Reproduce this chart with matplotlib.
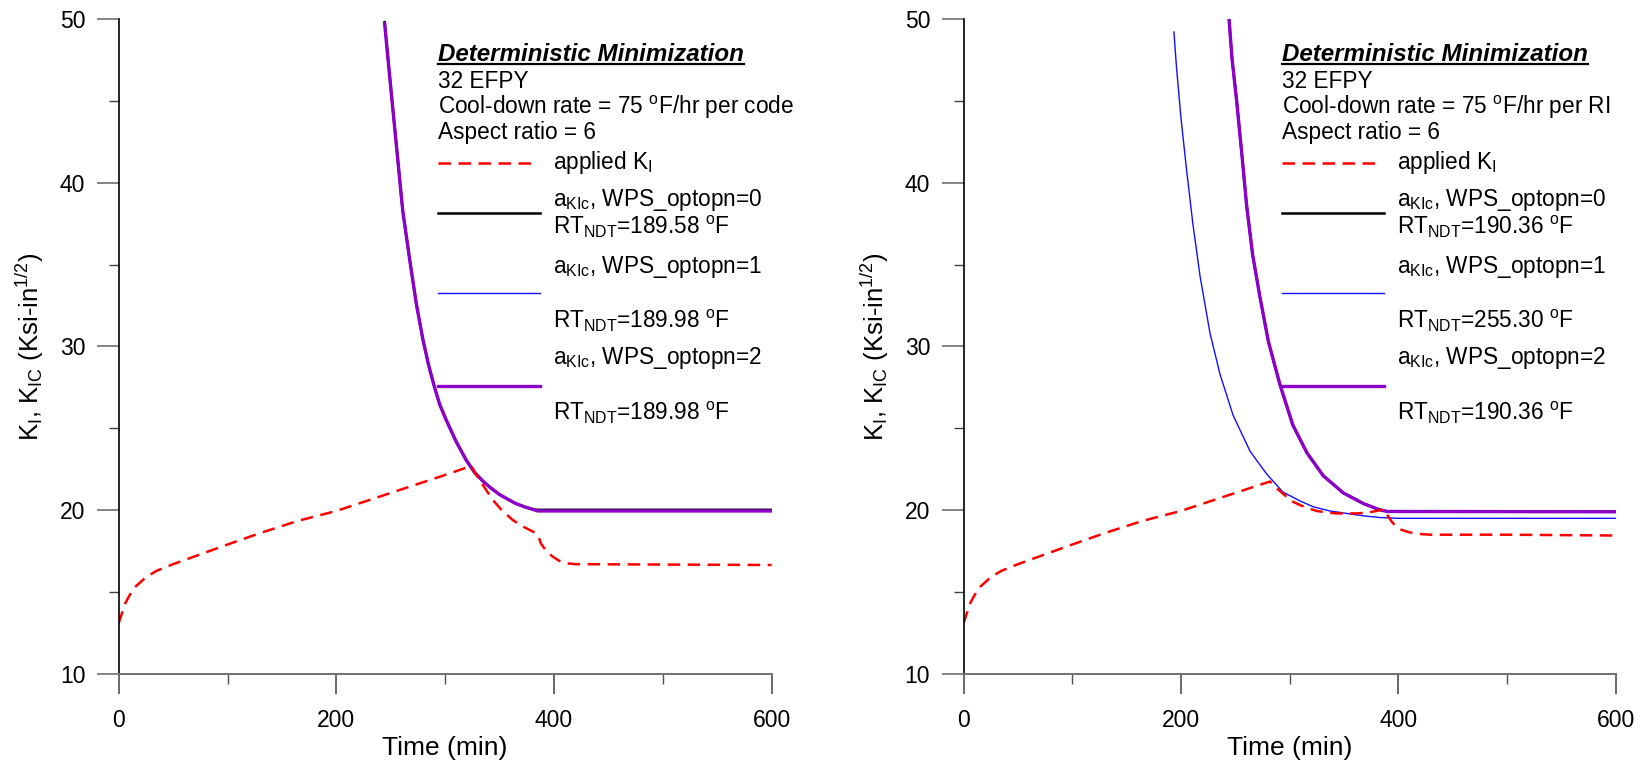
import matplotlib
matplotlib.use('Agg')
import matplotlib.pyplot as plt
from matplotlib.ticker import MultipleLocator

plt.rcParams['font.family'] = ['Liberation Sans', 'DejaVu Sans']
plt.rcParams['mathtext.fontset'] = 'custom'
plt.rcParams['mathtext.rm'] = 'Liberation Sans'
plt.rcParams['mathtext.it'] = 'Liberation Sans:italic'

# applied K_I, common early part (both cases)
t_red_common = [0, 3, 6, 10, 15, 20, 25, 35, 50, 75, 100, 130, 165, 200, 250]
k_red_common = [13.1, 13.7, 14.3, 14.8, 15.3, 15.6, 15.9, 16.3, 16.7, 17.3, 17.9, 18.6, 19.35, 19.95, 21.05]

# left panel (per code)
t_red_left = t_red_common + [300, 324, 327, 331, 337, 344, 352, 362, 370, 378, 383, 386, 388, 393, 399,
                             405, 412, 420, 600]
k_red_left = k_red_common + [22.15, 22.7, 22.35, 21.9, 21.3, 20.6, 20.0, 19.4, 19.05, 18.78, 18.6, 18.35,
                             17.96, 17.5, 17.15, 16.9, 16.75, 16.7, 16.65]

t_kic_left = [244.4, 249, 255, 261, 267.4, 273.5, 279.6, 285, 290, 295, 301, 310, 319.4, 327, 335, 342,
              350, 358, 365, 373, 380.7, 385, 600]
k_kic_left = [49.7, 46.5, 42.4, 38.3, 35.3, 32.6, 30.4, 28.8, 27.55, 26.45, 25.5, 24.2, 23.05, 22.3, 21.75,
              21.35, 20.95, 20.65, 20.4, 20.2, 20.04, 19.95, 19.95]
k_kic0_left = [49.8, 46.5, 42.4, 38.3, 35.3, 32.6, 30.4, 28.8, 27.55, 26.45, 25.5, 24.2, 23.05, 22.3, 21.75,
               21.35, 20.95, 20.65, 20.4, 20.2, 20.06, 20.02, 20.02]

# right panel (per RI)
t_red_right = t_red_common + [282, 288, 294, 302, 310, 318, 325, 335, 343, 352, 362, 372, 380, 386, 390,
                              394, 398, 403, 410, 418, 430, 500, 600]
k_red_right = k_red_common + [21.75, 21.35, 21.0, 20.55, 20.3, 20.1, 19.95, 19.85, 19.8, 19.8, 19.8, 19.85,
                              19.95, 20.05, 19.7, 19.3, 19.0, 18.8, 18.65, 18.55, 18.5, 18.5, 18.45]

t_kic0_right = [244.3, 247, 251.3, 256, 260.5, 266, 272.8, 280.5, 291, 303, 316, 331, 349.5, 368, 383, 390, 600]
k_kic0_right = [50.0, 47.6, 45.0, 41.8, 38.6, 35.6, 33.0, 30.3, 27.7, 25.2, 23.5, 22.1, 21.05, 20.4, 20.02,
                19.92, 19.9]

t_kic1_right = [193.6, 196, 200, 205, 211, 217.6, 226.8, 236, 248, 263.6, 279, 294, 310, 322, 337, 352.6,
                368, 383, 400, 600]
k_kic1_right = [49.2, 47.0, 44.0, 40.9, 37.5, 34.3, 30.8, 28.3, 25.8, 23.6, 22.2, 21.1, 20.55, 20.2, 19.95,
                19.8, 19.65, 19.55, 19.5, 19.5]

header_left = ['32 EFPY', 'Cool-down rate = 75 $^\\mathregular{o}$F/hr per code', 'Aspect ratio = 6']
header_right = ['32 EFPY', 'Cool-down rate = 75 $^\\mathregular{o}$F/hr per RI', 'Aspect ratio = 6']
rt_left = ['189.58', '189.98', '189.98']
rt_right = ['190.36', '255.30', '190.36']

RED = '#ff0000'
BLACK = '#000000'
BLUE = '#1010ff'
PURPLE = '#8c00c8'
FS = 16.3


def setup_axes(ax):
    ax.set_xlim(0, 600)
    ax.set_ylim(10, 50)
    ax.xaxis.set_major_locator(MultipleLocator(200))
    ax.xaxis.set_minor_locator(MultipleLocator(100))
    ax.yaxis.set_major_locator(MultipleLocator(10))
    ax.yaxis.set_minor_locator(MultipleLocator(5))
    for s in ['top', 'right']:
        ax.spines[s].set_visible(False)
    ax.spines['left'].set_color('black')
    ax.spines['left'].set_linewidth(1.2)
    ax.spines['bottom'].set_color('#707070')
    ax.spines['bottom'].set_linewidth(1.4)
    ax.tick_params(axis='y', which='major', length=16, width=1.2, color='#707070', pad=8, labelsize=16.5)
    ax.tick_params(axis='y', which='minor', length=7.2, width=1.0, color='#404040')
    ax.tick_params(axis='x', which='major', length=14.4, width=1.2, color='#505050', pad=11, labelsize=16.5)
    ax.tick_params(axis='x', which='minor', length=7.2, width=1.0, color='#505050')
    ax.set_xlabel('Time (min)', fontsize=19, labelpad=3)
    ax.set_ylabel('K$_\\mathregular{I}$, K$_\\mathregular{IC}$ (Ksi-in$^\\mathregular{1/2}$)', fontsize=18.5,
                  labelpad=10)


def add_legend(ax, header, rts):
    x0, x1, xt = 0.489, 0.645, 0.665
    title = ax.text(x0, 0.9357, 'Deterministic Minimization', transform=ax.transAxes, fontsize=17.4,
                    fontweight='bold', fontstyle='italic', va='baseline')
    ax.figure.canvas.draw()
    bb = title.get_window_extent().transformed(ax.transAxes.inverted())
    ax.plot([bb.x0, bb.x1], [0.9357 - 0.004, 0.9357 - 0.004], color='black', lw=1.6,
            transform=ax.transAxes, clip_on=False)
    for txt, y in zip(header, [0.8945, 0.8548, 0.8162]):
        ax.text(x0, y, txt, transform=ax.transAxes, fontsize=FS, va='baseline')

    ax.plot([x0, x0 + 0.153], [0.780, 0.780], color=RED, lw=1.8, dashes=(5, 3), transform=ax.transAxes)
    ax.text(xt, 0.7704, 'applied K$_\\mathregular{I}$', transform=ax.transAxes, fontsize=FS, va='baseline')

    line_ys = [0.7037, 0.5815, 0.4396]
    label_ys = [(0.7144, 0.6716), (0.6125, 0.5281), (0.4727, 0.3876)]
    styles = [(BLACK, 1.8), (BLUE, 1.0), (PURPLE, 2.4)]
    for i, (ly, (ya, yb), (c, lw), rt) in enumerate(zip(line_ys, label_ys, styles, rts)):
        ax.plot([x0, x1], [ly, ly], color=c, lw=lw, transform=ax.transAxes)
        ax.text(xt, ya, 'a$_\\mathregular{KIc}$, WPS_optopn=%d' % i, transform=ax.transAxes,
                fontsize=FS, va='baseline')
        ax.text(xt, yb, 'RT$_\\mathregular{NDT}$=%s $^\\mathregular{o}$F' % rt, transform=ax.transAxes,
                fontsize=FS, va='baseline')


fig = plt.figure(figsize=(16.46, 7.65), dpi=100)
ax1 = fig.add_axes([0.0721, 0.1191, 0.3967, 0.8562])
ax2 = fig.add_axes([0.5854, 0.1191, 0.3961, 0.8562])

# left panel
ax1.plot(t_kic_left, k_kic0_left, color=BLACK, lw=1.8)
ax1.plot(t_kic_left, k_kic_left, color=BLUE, lw=1.0)
ax1.plot(t_kic_left, k_kic_left, color=PURPLE, lw=2.4)
ax1.plot(t_red_left, k_red_left, color=RED, lw=1.8, dashes=(5, 3))
setup_axes(ax1)
add_legend(ax1, header_left, rt_left)

# right panel
ax2.plot(t_kic0_right, k_kic0_right, color=BLACK, lw=1.8)
ax2.plot(t_kic1_right, k_kic1_right, color=BLUE, lw=1.0)
ax2.plot(t_kic0_right, k_kic0_right, color=PURPLE, lw=2.4)
ax2.plot(t_red_right, k_red_right, color=RED, lw=1.8, dashes=(5, 3))
setup_axes(ax2)
add_legend(ax2, header_right, rt_right)

fig.savefig('out.png', dpi=100)
